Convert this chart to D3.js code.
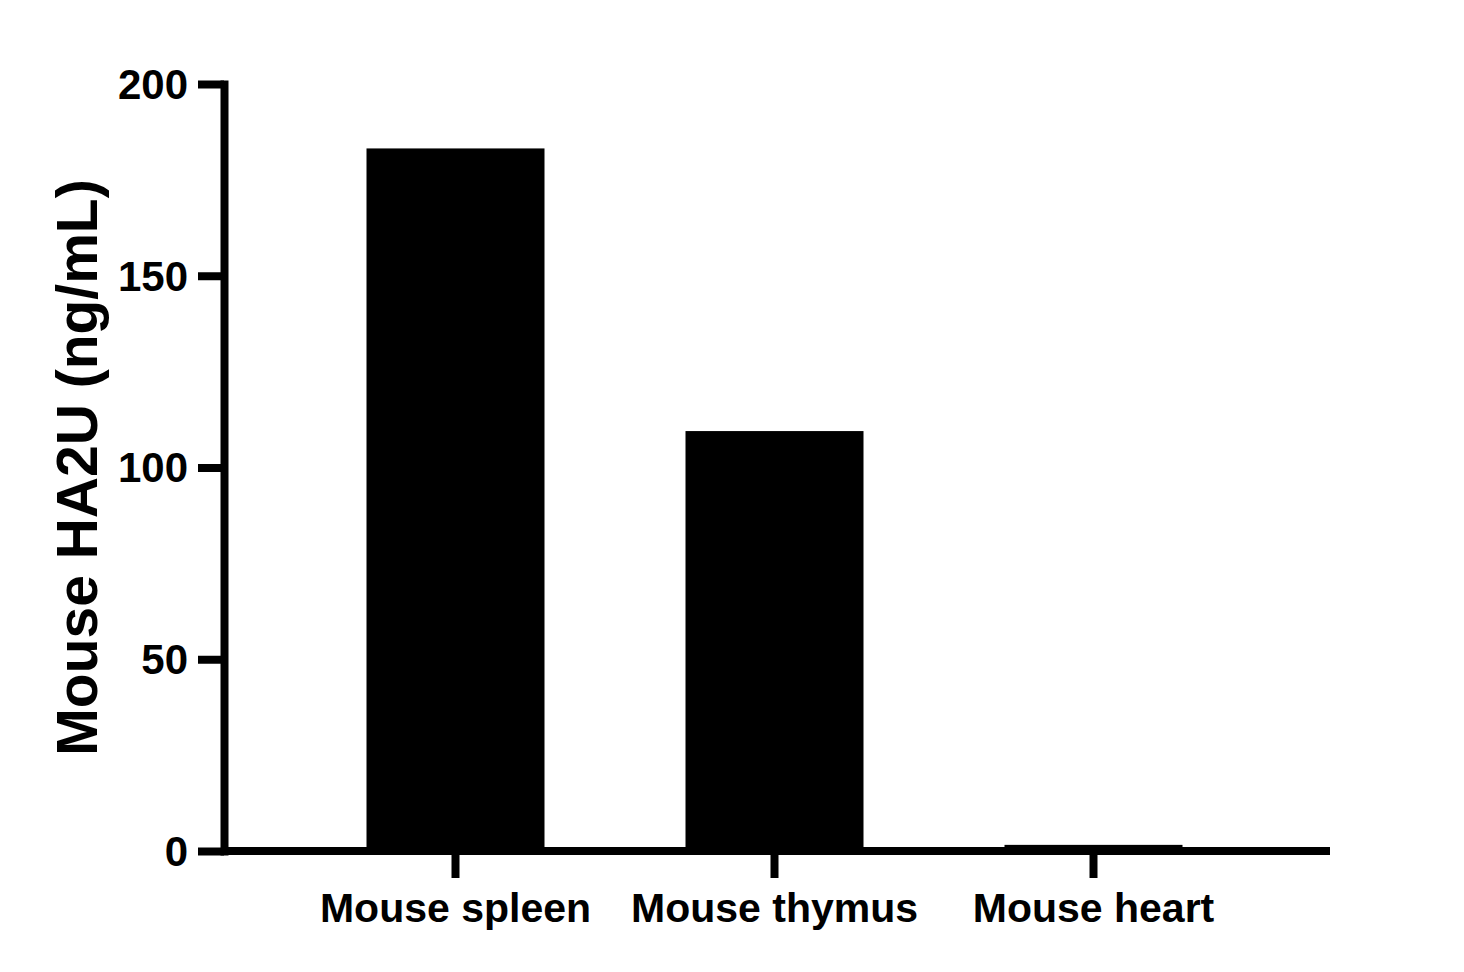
<!DOCTYPE html>
<html>
<head>
<meta charset="utf-8">
<script src="https://cdn.jsdelivr.net/npm/d3@7"></script>
<style>
  html, body { margin: 0; padding: 0; background: #fff; }
  svg { display: block; font-family: "Liberation Sans", Arial, sans-serif; font-weight: bold; }
</style>
</head>
<body>
<svg id="chart" width="1464" height="972"></svg>
<script>
var categories = ['Mouse spleen', 'Mouse thymus', 'Mouse heart'];
var values = [183.2, 109.5, 1.6];
var yTicks = [0, 50, 100, 150, 200];
var yTitle = 'Mouse HA2U (ng/mL)';

var svg = d3.select('#chart');
var axisLeftX = 224, axisRightX = 1330;
var plotTop = 84, plotBottom = 851;

var y = d3.scaleLinear().domain([0, 200]).range([plotBottom, plotTop]);
var x = d3.scaleBand()
  .domain(categories)
  .range([296, 1253])
  .paddingInner(0.442)
  .paddingOuter(0.221);

// bars
svg.append('g').selectAll('rect')
  .data(values)
  .enter().append('rect')
  .attr('x', function (d, i) { return x(categories[i]); })
  .attr('y', function (d) { return y(d); })
  .attr('width', x.bandwidth())
  .attr('height', function (d) { return y(0) - y(d); })
  .attr('fill', '#000');

// y axis
var gy = svg.append('g')
  .attr('transform', 'translate(' + axisLeftX + ',0)')
  .call(d3.axisLeft(y).tickValues(yTicks).tickSize(26).tickSizeOuter(0).tickPadding(10));
gy.select('.domain').attr('stroke-width', 8).attr('stroke-linecap', 'square');
gy.selectAll('.tick line').attr('stroke-width', 8);
gy.selectAll('.tick text')
  .attr('font-size', 42)
  .attr('font-family', '"Liberation Sans", Arial, sans-serif')
  .attr('font-weight', 'bold')
  .attr('fill', '#000')
  .attr('dy', '0.34em');

// x axis
var gx = svg.append('g')
  .attr('transform', 'translate(0,' + plotBottom + ')')
  .call(d3.axisBottom(x).tickSize(27).tickSizeOuter(0).tickPadding(15));
gx.select('.domain').remove();
gx.append('line')
  .attr('x1', axisLeftX)
  .attr('x2', axisRightX)
  .attr('stroke', '#000')
  .attr('stroke-width', 8);
gx.selectAll('.tick line').attr('stroke-width', 8);
gx.selectAll('.tick text')
  .attr('font-size', 41)
  .attr('font-family', '"Liberation Sans", Arial, sans-serif')
  .attr('font-weight', 'bold')
  .attr('fill', '#000');

// y title
svg.append('text')
  .attr('transform', 'translate(97,' + ((plotTop + plotBottom) / 2) + ') rotate(-90)')
  .attr('text-anchor', 'middle')
  .attr('font-size', 57)
  .attr('fill', '#000')
  .text(yTitle);
</script>
</body>
</html>
